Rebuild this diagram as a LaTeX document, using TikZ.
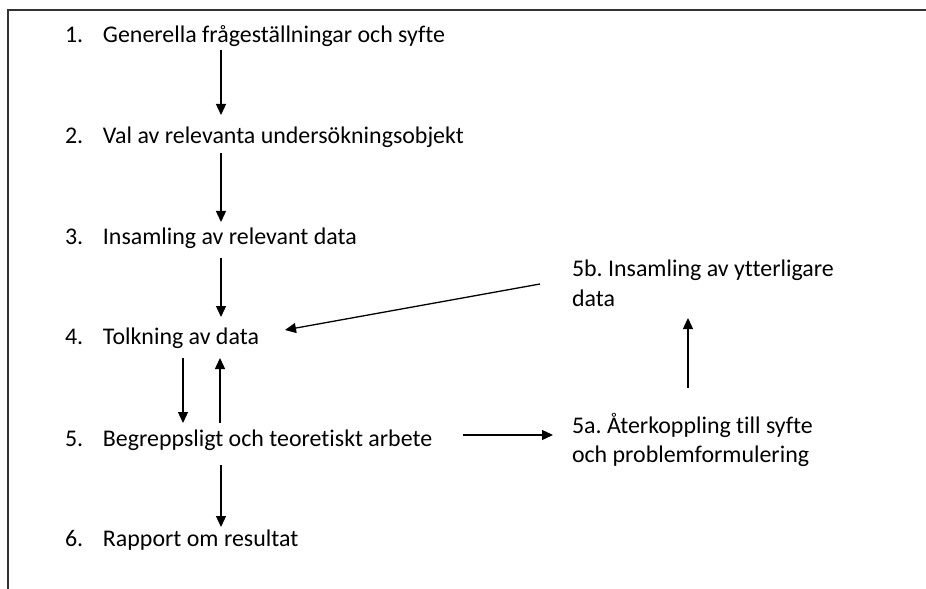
\documentclass[tikz,border=0pt]{standalone}
\usepackage{fontspec}
\setmainfont{Carlito}[Ligatures={NoCommon}]
\usetikzlibrary{arrows.meta,calc}

\tikzset{
  item/.style={anchor=base west, inner sep=0pt, outer sep=0pt,
    font=\fontsize{24}{30}\selectfont\frenchspacing, text=black},
  arr/.style={line width=1.3bp, draw=black,
    -{Triangle[length=11bp,width=10bp]}},
  frame/.style={line width=1.5bp, draw=black!80}
}
\newcommand{\num}[1]{\makebox[38bp][l]{#1}}

\begin{document}
\begin{tikzpicture}[x=1bp,y=-1bp]
  \useasboundingbox (0,0) rectangle (926,589);

  % open frame: top edge and left edge only
  \draw[frame] (8,589) -- (8,10) -- (926,10);

  % main chain of steps
  \node[item] (i1) at (65,43)  {\num{1.}Generella frågeställningar och syfte};
  \node[item] (i2) at (65,144) {\num{2.}Val av relevanta undersökningsobjekt};
  \node[item] (i3) at (65,245) {\num{3.}Insamling av relevant data};
  \node[item] (i4) at (65,344) {\num{4.}Tolkning av data};
  \node[item] (i5) at (65,446) {\num{5.}Begreppsligt och teoretiskt arbete};
  \node[item] (i6) at (65,546) {\num{6.}Rapport om resultat};

  % feedback loop
  \node[item] (i5a) at (572,433)
    {\begin{tabular}[t]{@{}l@{}}5a.\ Återkoppling till syfte\\och problemformulering\end{tabular}};
  \node[item] (i5b) at (572,277)
    {\begin{tabular}[t]{@{}l@{}}5b.\ Insamling av ytterligare\\data\end{tabular}};

  % downward flow
  \draw[arr] ($(i1.base west)+(156,7)$)  -- ($(i2.base west)+(156,-29)$);
  \draw[arr] ($(i2.base west)+(156,9)$)  -- ($(i3.base west)+(156,-23)$);
  \draw[arr] ($(i3.base west)+(156,13)$) -- ($(i4.base west)+(156,-27)$);
  \draw[arr] ($(i4.base west)+(118,14)$) -- ($(i5.base west)+(118,-23)$);
  \draw[arr] ($(i5.base west)+(155,-23)$) -- ($(i4.base west)+(155,14)$);
  \draw[arr] ($(i5.base west)+(156,19)$) -- ($(i6.base west)+(156,-19)$);

  % side branch
  \draw[arr] ($(i5.base west)+(398,-11)$) -- ($(i5a.base west)+(-19,2)$);
  \draw[arr] ($(i5a.base west)+(116,-45)$) -- ($(i5b.base west)+(116,41)$);
  \draw[arr] ($(i5b.base west)+(-32,7)$) -- ($(i4.base west)+(220,-14)$);
\end{tikzpicture}
\end{document}
